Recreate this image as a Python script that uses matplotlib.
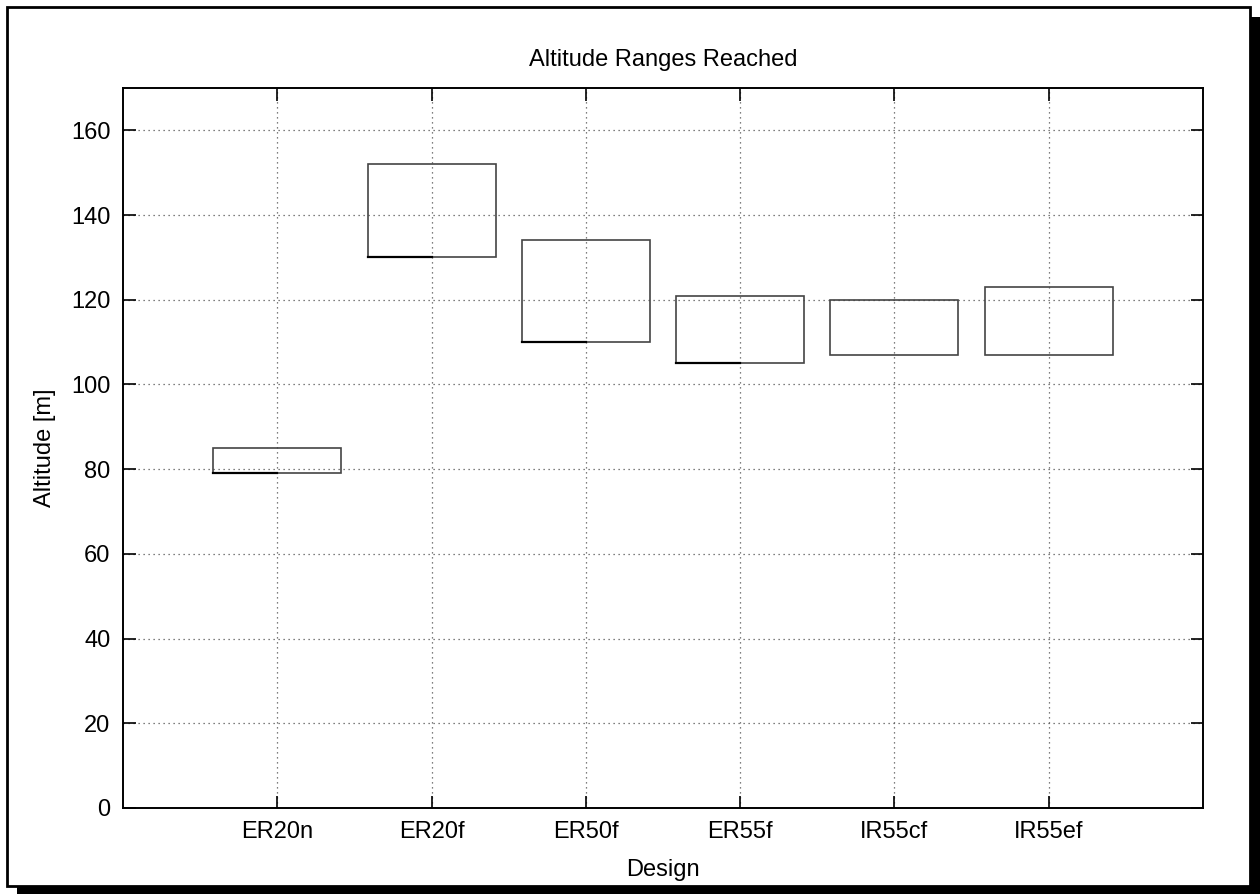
import numpy as np
import matplotlib.pyplot as plt
from matplotlib.patches import Rectangle

plt.rcParams['font.family'] = ['Liberation Sans', 'DejaVu Sans']

designs = ['ER20n', 'ER20f', 'ER50f', 'ER55f', 'IR55cf', 'IR55ef']
alt_min = [79, 130, 110, 105, 107, 107]
alt_max = [85, 152, 134, 121, 120, 123]
dark_low = [True, True, True, True, False, False]

W, H = 1260, 894
fig = plt.figure(figsize=(W / 100, H / 100), dpi=100)

# page frame with drop shadow
fig.patches.append(Rectangle((17 / W, 0), (W - 17) / W, (H - 17) / H,
                             transform=fig.transFigure, facecolor='black',
                             edgecolor='none', zorder=0))
fig.patches.append(Rectangle((7 / W, 8 / H), (1250 - 7) / W, (886 - 7) / H,
                             transform=fig.transFigure, facecolor='white',
                             edgecolor='black', linewidth=2, zorder=1))

ax = fig.add_axes([123 / W, (H - 808) / H, (1203 - 123) / W, (808 - 88) / H])
ax.set_zorder(2)

xpos = np.arange(1, len(designs) + 1)
bw = 0.83
for x, lo, hi, dk in zip(xpos, alt_min, alt_max, dark_low):
    ax.add_patch(Rectangle((x - bw / 2, lo), bw, hi - lo, fill=False,
                           edgecolor='#444444', linewidth=1.2, zorder=3))
    if dk:
        ax.plot([x - bw / 2, x], [lo, lo], color='black', lw=1.6, zorder=4)

ax.set_xlim(0, 7)
ax.set_ylim(0, 170)
ax.set_xticks(xpos)
ax.set_xticklabels(designs)
ax.set_yticks(np.arange(0, 161, 20))
ax.grid(True, linestyle=(0, (1, 3)), color='#555555', linewidth=0.9)
ax.tick_params(direction='in', length=9, width=1.2, top=True, right=True,
               labelsize=17, pad=9)
for s in ax.spines.values():
    s.set_linewidth(1.4)

ax.set_title('Altitude Ranges Reached', fontsize=17, pad=16)
ax.set_xlabel('Design', fontsize=17, labelpad=12)
ax.set_ylabel('Altitude [m]', fontsize=17, labelpad=11)

fig.savefig('out.png', dpi=100)
